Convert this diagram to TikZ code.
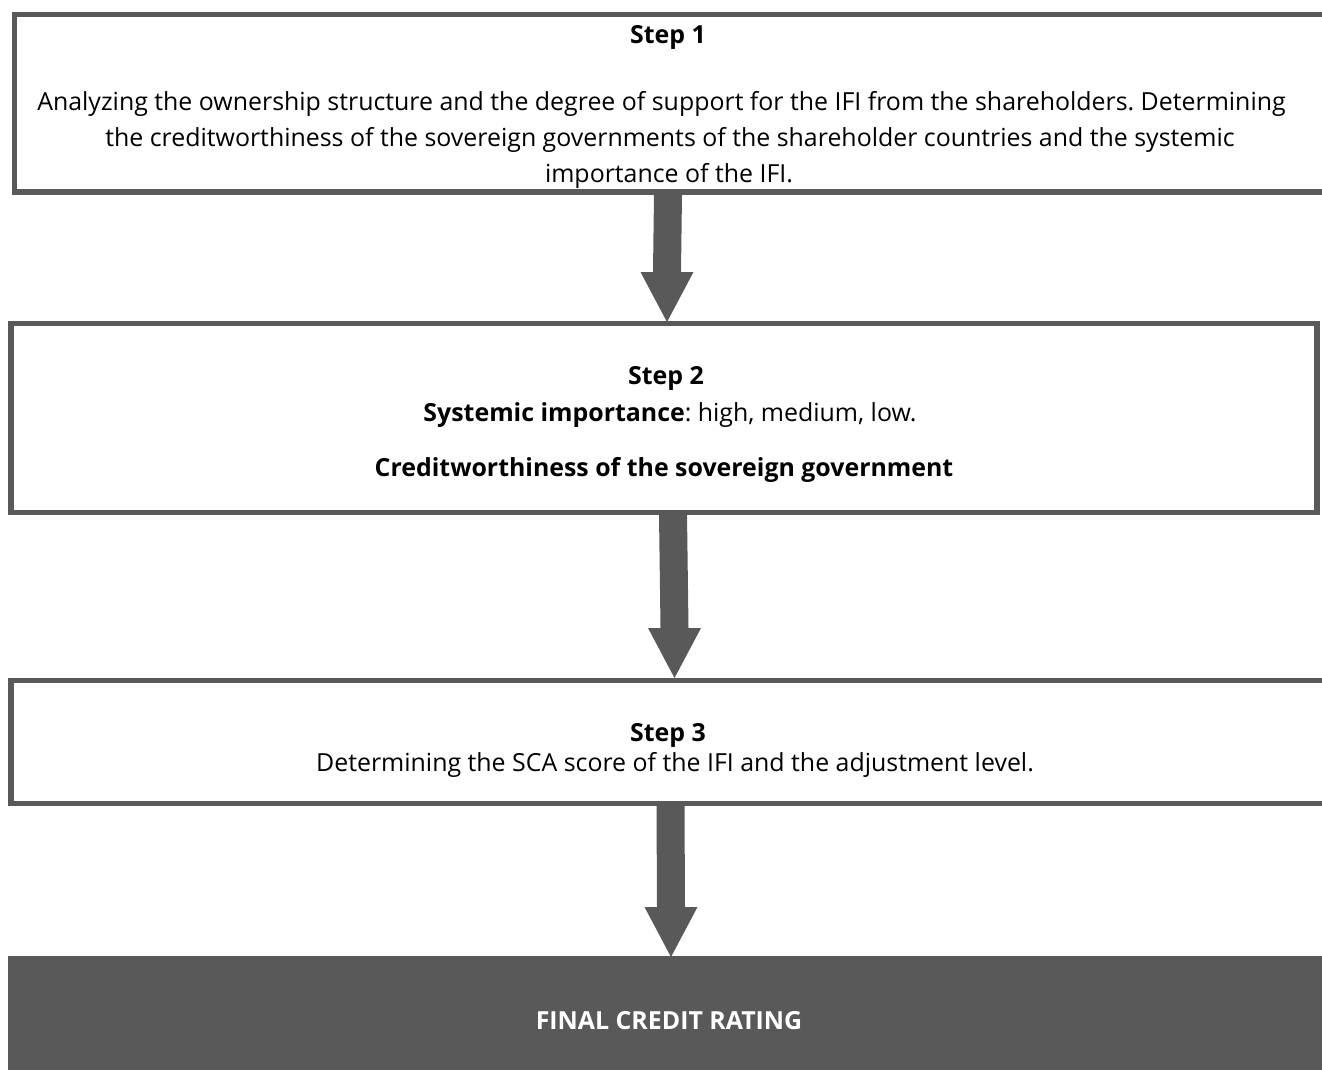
\documentclass[tikz,border=0pt]{standalone}
\usepackage{fontspec}
\setmainfont{Open Sans}
\frenchspacing
\usetikzlibrary{calc}
\definecolor{dg}{HTML}{595959}
\newcommand{\blockarrow}[2]{%
  \fill[dg] ($(#1)+(-14,0)$) -- ($(#2)+(-14,-50)$) -- ($(#2)+(-26.5,-50)$) -- (#2)
    -- ($(#2)+(26.5,-50)$) -- ($(#2)+(14,-50)$) -- ($(#1)+(14,0)$) -- cycle;}
\begin{document}
\begin{tikzpicture}[x=1pt,y=-1pt,
  boxline/.style={draw=dg,line width=5.5pt,inner sep=0pt,outer sep=0pt},
  txt/.style={anchor=base,inner sep=0pt,text=black,font=\fontsize{24.9}{35.5}\selectfont},
  btxt/.style={txt,font=\fontsize{24.9}{35.5}\selectfont\bfseries},
  finbox/.style={fill=dg,draw=none,inner sep=0pt,outer sep=0pt}]
\useasboundingbox[fill=white] (0,0) rectangle (1322,1070);
% texts
\node[btxt] (s1) at (668,44) {Step 1};
\node[txt] (l1a) at (661.5,111) {Analyzing the ownership structure and the degree of support for the IFI from the shareholders. Determining};
\node[txt] (l1b) at (670,146.5) {the creditworthiness of the sovereign governments of the shareholder countries and the systemic};
\node[txt] (l1c) at (669,182) {importance of the IFI.};
\node[btxt] (s2) at (666,384) {Step 2};
\node[txt] (l2a) at (670,421) {\textbf{Systemic importance}: high, medium, low.};
\node[btxt] (l2b) at (664,476) {Creditworthiness of the sovereign government};
\node[btxt] (s3) at (668,741) {Step 3};
\node[txt] (l3) at (675,771) {Determining the SCA score of the IFI and the adjustment level.};
% boxes
\node[boxline,minimum width=1320.5pt,minimum height=177.5pt] (b1) at (674.75,103.25) {};
\node[boxline,minimum width=1306pt,minimum height=189pt] (b2) at (664,418) {};
\node[boxline,minimum width=1324pt,minimum height=123pt] (b3) at (673,742) {};
\node[finbox,minimum width=1327pt,minimum height=119pt] (b4) at (671.5,1015.5) {};
\node[btxt,text=white] (fin) at (669,1029) {FINAL CREDIT RATING};
% arrows
\coordinate (a1f) at (668,194);
\coordinate (a1t) at (667,322);
\coordinate (a2f) at (673,514);
\coordinate (a2t) at (674.5,678);
\coordinate (a3f) at (670.5,805);
\coordinate (a3t) at (671,957);
\blockarrow{a1f}{a1t}
\blockarrow{a2f}{a2t}
\blockarrow{a3f}{a3t}
\end{tikzpicture}
\end{document}
